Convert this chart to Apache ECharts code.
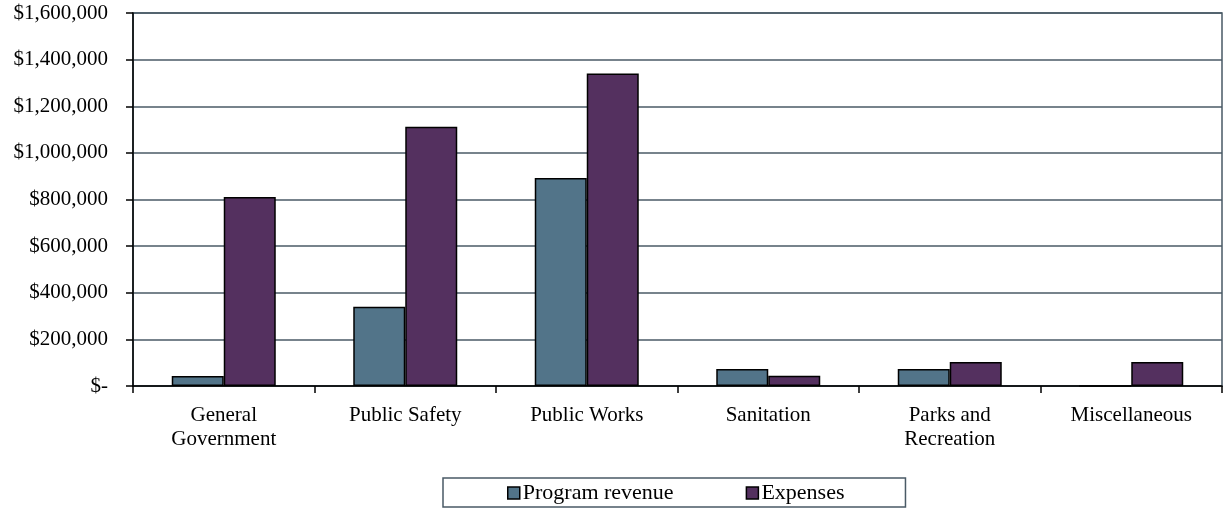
<!DOCTYPE html>
<html>
<head>
<meta charset="utf-8">
<script src="https://cdn.jsdelivr.net/npm/echarts@6/dist/echarts.min.js"></script>
<style>
  html, body { margin: 0; padding: 0; background: #fff; }
  #chart { width: 1225px; height: 518px; }
</style>
</head>
<body>
<div id="chart"></div>
<script>
// categories and values
var categories = ['General\nGovernment', 'Public Safety', 'Public Works', 'Sanitation', 'Parks and\nRecreation', 'Miscellaneous']
var programRevenue = [43000, 340000, 892000, 73000, 73000, 0]
var expenses = [811000, 1112000, 1341000, 44000, 103000, 103000]
var yTicks = [0, 200000, 400000, 600000, 800000, 1000000, 1200000, 1400000, 1600000]

var font = '"Liberation Serif", "Times New Roman", serif'

function money (v) {
  if (v === 0) return '$-'
  return '$' + String(v).replace(/(?=(?!^)(\d{3})+$)/g, ',')
}

var myChart = echarts.init(document.getElementById('chart'))
myChart.setOption({
  animation: false,
  textStyle: { fontFamily: font },
  grid: {
    left: 133,
    right: 3,
    top: 13,
    bottom: 132,
    show: true,
    borderColor: '#4a5a66',
    borderWidth: 1.5
  },
  legend: {
    data: ['Program revenue', 'Expenses'],
    left: 443,
    top: 478,
    padding: [4, 61, 3, 64],
    itemGap: 72,
    itemWidth: 12,
    itemHeight: 12,
    icon: 'rect',
    borderColor: '#4a5a66',
    borderWidth: 1.5,
    itemStyle: { borderColor: '#000', borderWidth: 1.5 },
    textStyle: { fontFamily: font, fontSize: 22, color: '#000', padding: [0, 0, 0, -2] }
  },
  xAxis: {
    type: 'category',
    data: categories,
    axisLine: { lineStyle: { color: '#000', width: 1.5 } },
    axisTick: { show: true, length: 7, lineStyle: { color: '#000', width: 1.5 } },
    axisLabel: { interval: 0, fontFamily: font, fontSize: 21, color: '#000', lineHeight: 24, margin: 17 }
  },
  yAxis: {
    type: 'value',
    min: yTicks[0],
    max: yTicks[yTicks.length - 1],
    interval: yTicks[1] - yTicks[0],
    axisLine: { show: true, lineStyle: { color: '#000', width: 1.5 } },
    axisTick: { show: true, length: 7, lineStyle: { color: '#000', width: 1.5 } },
    splitLine: { lineStyle: { color: '#4a5a66', width: 1.5 } },
    axisLabel: { fontFamily: font, fontSize: 21, color: '#000', margin: 25, formatter: money }
  },
  series: [
    {
      name: 'Program revenue',
      type: 'bar',
      data: programRevenue,
      barWidth: 52,
      barGap: '0%',
      itemStyle: { color: '#527489', borderColor: '#000', borderWidth: 1.5 }
    },
    {
      name: 'Expenses',
      type: 'bar',
      data: expenses,
      barWidth: 52,
      barGap: '0%',
      itemStyle: { color: '#54305f', borderColor: '#000', borderWidth: 1.5 }
    }
  ]
})
</script>
</body>
</html>
